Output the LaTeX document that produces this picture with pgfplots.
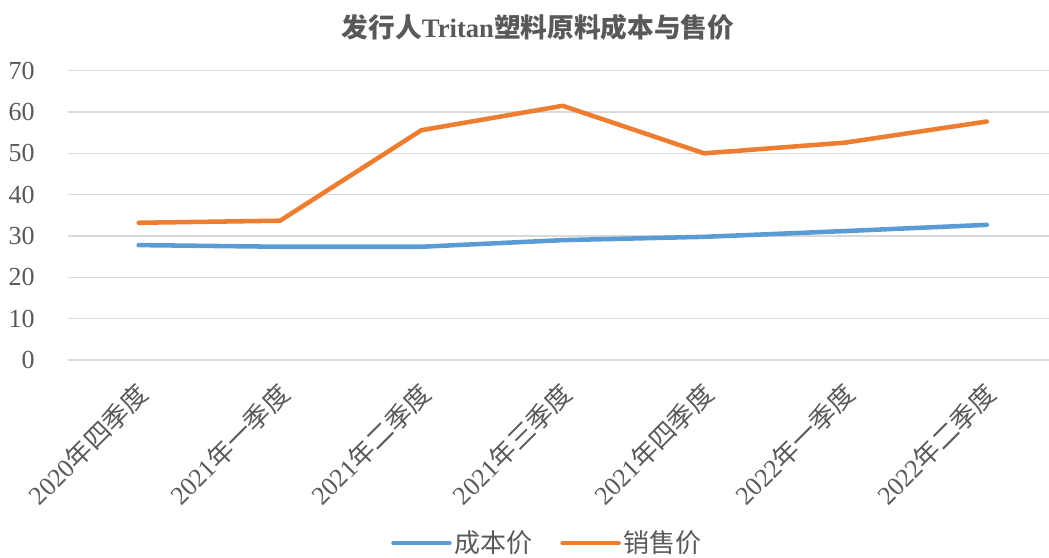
\documentclass[border=0pt]{standalone}
\usepackage{pgfplots}
\pgfplotsset{compat=1.18}
\usepackage{fontspec}
\setmainfont{Liberation Serif}
\newfontfamily\cjk{Noto Sans CJK SC}
\definecolor{txt}{HTML}{595959}
\definecolor{gridc}{HTML}{D9D9D9}
\definecolor{cost}{HTML}{5B9BD5}
\definecolor{sale}{HTML}{ED7D31}

\begin{document}
\begin{tikzpicture}
\path[use as bounding box] (-51pt,-147.75pt) rectangle (735.75pt,270pt);
\begin{axis}[
    at={(0,0)}, anchor=south west,
    scale only axis,
    width=735.75pt, height=217pt,
    xmin=-0.5, xmax=6.44,
    ymin=0, ymax=70,
    ytick={0,10,...,70},
    xtick={0,...,6},
    xticklabels={
        2020{\cjk 年四季度},
        2021{\cjk 年一季度},
        2021{\cjk 年二季度},
        2021{\cjk 年三季度},
        2021{\cjk 年四季度},
        2022{\cjk 年一季度},
        2022{\cjk 年二季度}
    },
    axis line style={draw=none},
    major tick length=0pt,
    ymajorgrids,
    grid style={gridc, line width=1.1pt},
    tick label style={font=\fontsize{19.5}{21}\selectfont, text=txt},
    yticklabel style={inner sep=0pt, xshift=-24.75pt},
    xticklabel style={xshift=3.5pt, yshift=-22pt, rotate=45, anchor=east, inner sep=0pt},
    /pgf/number format/assume math mode=true,
    clip=false,
    legend columns=2,
    legend style={
        at={(0.489,-0.6326)}, anchor=center,
        draw=none, fill=none,
        font=\fontsize{19.5}{21}\selectfont, text=txt,
        /tikz/every even column/.append style={column sep=19pt}
    },
    legend image code/.code={\draw[#1] (0pt,0pt) -- (42pt,0pt);}
]

% cost price
\addplot[cost, line width=3.4pt, line cap=round, line join=round] coordinates {
    (0,27.8) (1,27.4) (2,27.4) (3,29.0) (4,29.8) (5,31.2) (6,32.7)
};

% sale price
\addplot[sale, line width=3.4pt, line cap=round, line join=round] coordinates {
    (0,33.2) (1,33.7) (2,55.6) (3,61.5) (4,50.0) (5,52.6) (6,57.7)
};

\legend{{\cjk 成本价}, {\cjk 销售价}}
\end{axis}
\node[font=\fontsize{20}{22}\selectfont\bfseries, text=txt] at (352.5pt,249.75pt)
    {{\cjk 发行人}Tritan{\cjk 塑料原料成本与售价}};
\end{tikzpicture}
\end{document}
